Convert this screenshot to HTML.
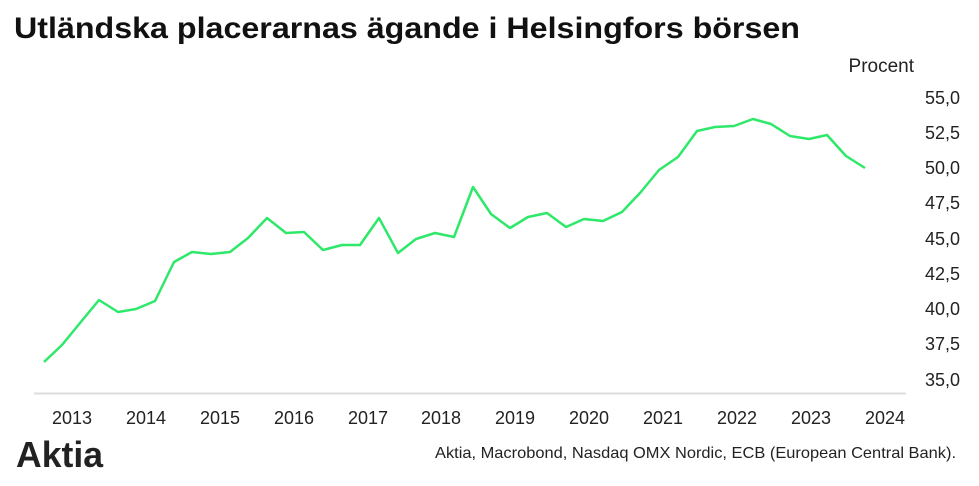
<!DOCTYPE html>
<html><head><meta charset="utf-8"><style>
body{margin:0;background:#fff;width:979px;height:481px;overflow:hidden;font-family:"Liberation Sans",sans-serif;}
</style></head><body>
<svg width="979" height="481" xmlns="http://www.w3.org/2000/svg" font-family="Liberation Sans, sans-serif">
<text x="14" y="38" font-size="30" font-weight="bold" fill="#111" textLength="786" lengthAdjust="spacingAndGlyphs">Utländska placerarnas ägande i Helsingfors börsen</text>
<text x="914" y="72" font-size="19" fill="#222" text-anchor="end">Procent</text>
<g font-size="18" fill="#222" text-anchor="end">
<text x="960" y="104">55,0</text>
<text x="960" y="139">52,5</text>
<text x="960" y="174">50,0</text>
<text x="960" y="209">47,5</text>
<text x="960" y="245">45,0</text>
<text x="960" y="280">42,5</text>
<text x="960" y="315">40,0</text>
<text x="960" y="350">37,5</text>
<text x="960" y="386">35,0</text>
</g>
<line x1="34" y1="393.5" x2="906" y2="393.5" stroke="#ddd" stroke-width="2"/>
<g font-size="18" fill="#222" text-anchor="middle">
<text x="72" y="424">2013</text><text x="146" y="424">2014</text><text x="220" y="424">2015</text><text x="294" y="424">2016</text><text x="368" y="424">2017</text><text x="441" y="424">2018</text><text x="515" y="424">2019</text><text x="589" y="424">2020</text><text x="663" y="424">2021</text><text x="737" y="424">2022</text><text x="811" y="424">2023</text><text x="885" y="424">2024</text>
</g>
<polyline fill="none" stroke="#2ee86a" stroke-width="2.5" stroke-linejoin="round" points="44,362 62,345 80,323 99,300 118,312 136,309 155,301 174,262 192,252 211,254 230,252 248,238 267,218 286,233 304,232 323,250 342,245 360,245 379,218 398,253 416,239 435,233 454,237 473,187 491,214 510,228 528,217 547,213 566,227 584,219 603,221 622,212 640,193 659,170 678,157 697,131 715,127 734,126 753,119 771,124 790,136 809,139 827,135 846,156 865,168"/>
<text x="16" y="467" font-size="36" fill="#222" font-weight="bold" textLength="87" lengthAdjust="spacingAndGlyphs">Aktia</text>
<text x="956" y="458" font-size="16" fill="#222" text-anchor="end" textLength="521" lengthAdjust="spacingAndGlyphs">Aktia, Macrobond, Nasdaq OMX Nordic, ECB (European Central Bank).</text>
</svg>
</body></html>
